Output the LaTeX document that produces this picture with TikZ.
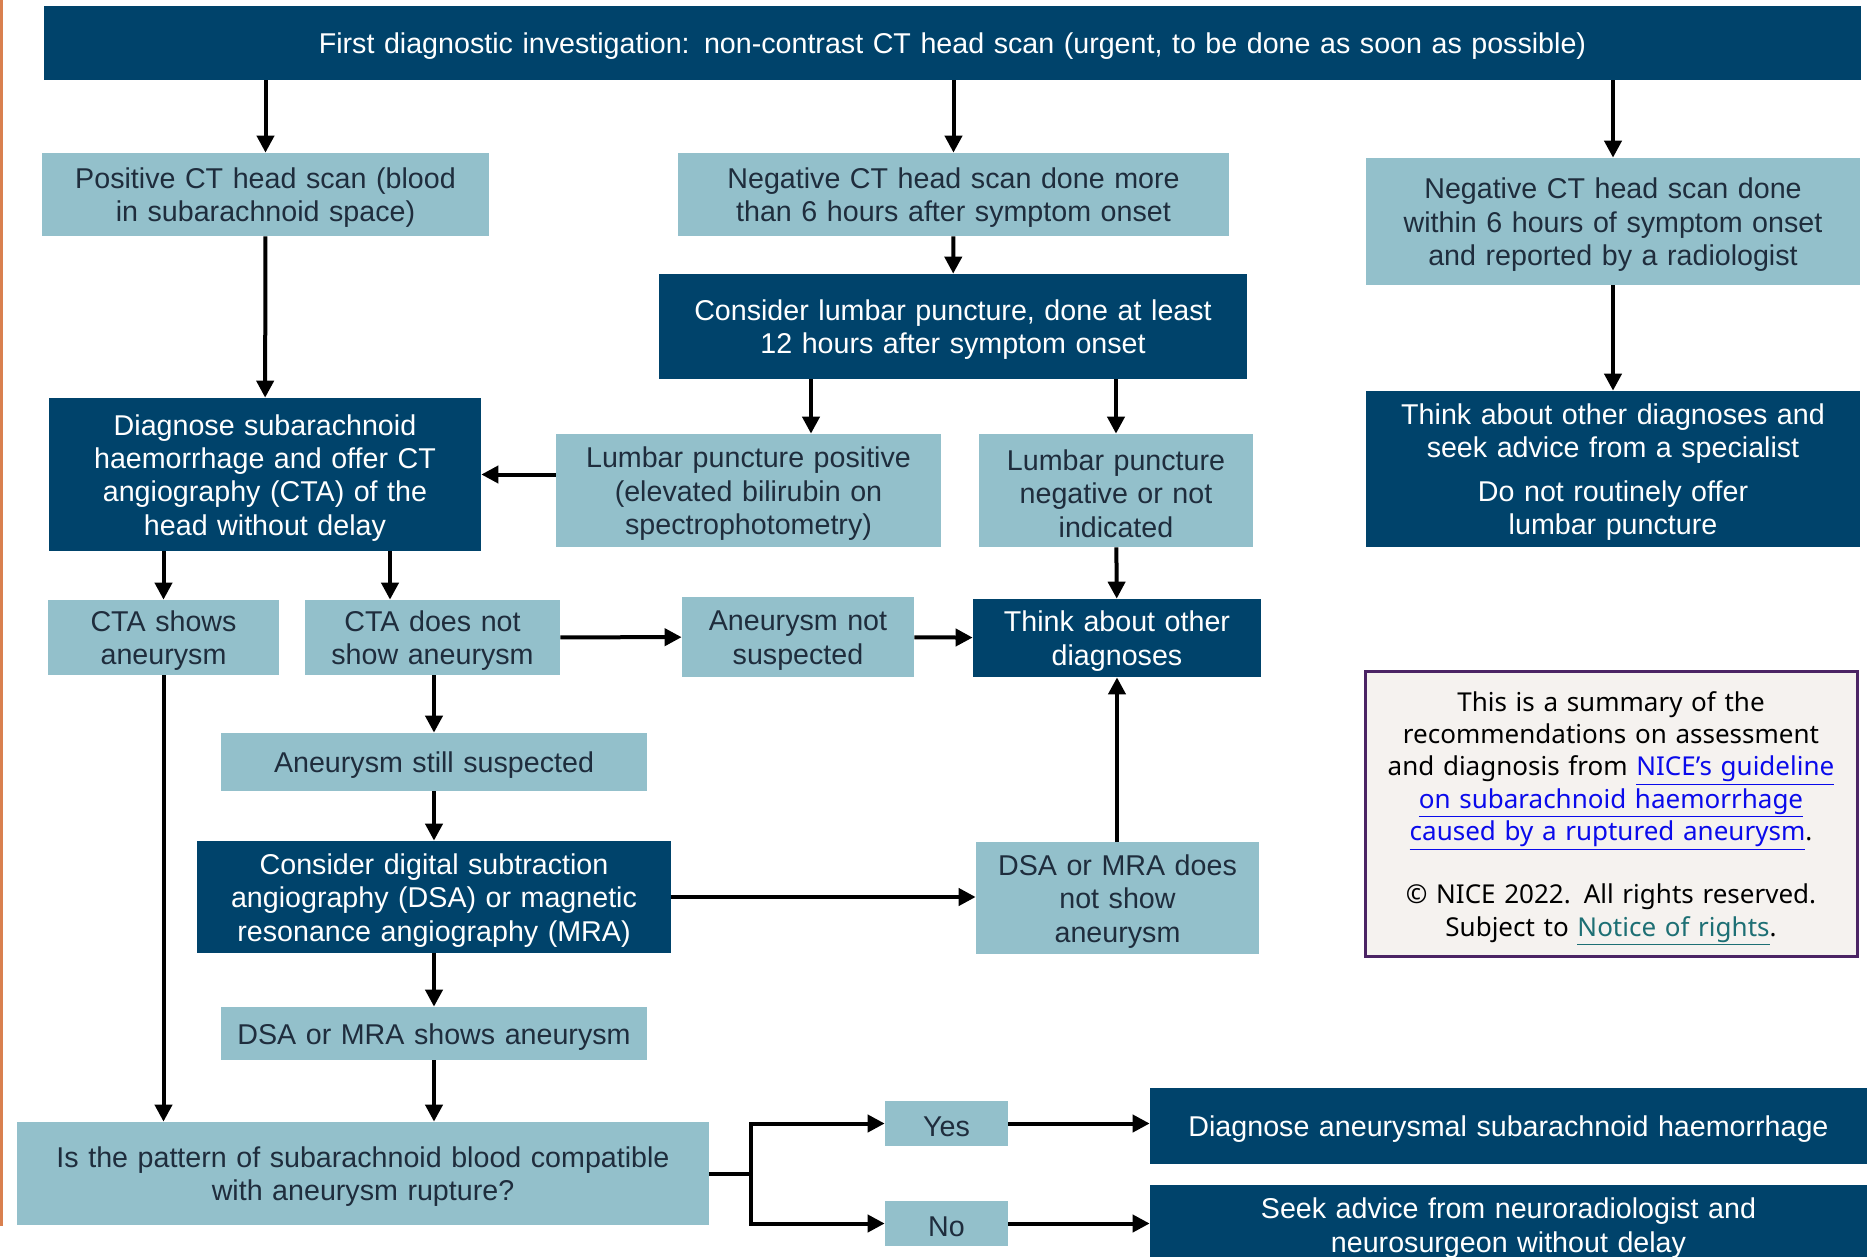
\documentclass[tikz,border=0pt]{standalone}
\usepackage{fontspec}
\setmainfont{Liberation Sans}
\newfontfamily\notefont{Noto Sans}
\usetikzlibrary{arrows.meta, positioning, calc}
\definecolor{nicenavy}{RGB}{0, 67, 107}
\definecolor{nicelight}{RGB}{147, 192, 203}
\definecolor{niceink}{RGB}{31, 45, 61}
\definecolor{notefill}{RGB}{245, 242, 239}
\definecolor{noteedge}{RGB}{75, 36, 100}
\definecolor{linkblue}{RGB}{10, 10, 235}
\definecolor{linkteal}{RGB}{29, 111, 116}
\definecolor{edgeorange}{RGB}{217, 128, 79}
\newcommand{\nicelink}[2][linkblue]{\textcolor{#1}{\underline{#2}}}
\tikzset{
    darkbox/.style={rectangle, fill=nicenavy, text=white, inner sep=0pt,
                    align=center, font=\fontsize{16.3}{19}\selectfont,
                    execute at begin node={\rule{0pt}{15.5pt}}},
    lightbox/.style={rectangle, fill=nicelight, text=niceink, inner sep=0pt,
                     align=center, font=\fontsize{16.3}{19}\selectfont,
                     execute at begin node={\rule{0pt}{15.5pt}}},
    notebox/.style={rectangle, draw=noteedge, line width=0.6mm, fill=notefill, inner sep=0pt,
                    align=center, font=\notefont\fontsize{14.8}{18.4}\selectfont,
                    execute at begin node={\rule{0pt}{17pt}}},
    arrow/.style={-{Triangle[length=3.4mm, width=3.4mm]}, line width=0.8mm},
    plainline/.style={line width=0.8mm},
}
\begin{document}
\begin{tikzpicture}[x=0.2mm, y=-0.2mm]
    \clip (0,0) rectangle (1875,1257);
    \fill[white] (0,0) rectangle (1875,1257);
    \fill[edgeorange] (0,0) rectangle (3,1226);

    % top row
    \node[darkbox, text width=363.4mm, minimum height=14.8mm] (first) at (952.5, 43) {First diagnostic investigation: non-contrast CT head scan (urgent, to be done as soon as possible)};
    \node[lightbox, text width=89.4mm, minimum height=16.6mm] (positive) at (265.5, 194.5) {Positive CT head scan (blood\\in subarachnoid space)};
    \node[lightbox, text width=110.2mm, minimum height=16.6mm] (negmore) at (953.5, 194.5) {Negative CT head scan done more\\than 6 hours after symptom onset};
    \node[lightbox, text width=98.8mm, minimum height=25.4mm] (negwithin) at (1613, 221.5) {Negative CT head scan done\\within 6 hours of symptom onset\\and reported by a radiologist};
    \node[darkbox, text width=117.6mm, minimum height=21mm] (lumbar) at (953, 326.5) {Consider lumbar puncture, done at least\\12 hours after symptom onset};

    % middle
    \node[darkbox, text width=86.4mm, minimum height=30.6mm] (diagsah) at (265, 474.5) {Diagnose subarachnoid\\haemorrhage and offer CT\\angiography (CTA) of the\\head without delay};
    \node[lightbox, text width=77mm, minimum height=22.6mm] (lppos) at (748.5, 490.5) {Lumbar puncture positive\\(elevated bilirubin on\\spectrophotometry)};
    \node[lightbox, text width=54.8mm, minimum height=22.6mm] (lpneg) at (1116, 490.5) {Lumbar puncture\\negative or not\\indicated};
    \node[darkbox, text width=98.8mm, minimum height=31.2mm] (specialist) at (1613, 469) {Think about other diagnoses and\\seek advice from a specialist\\[2mm]Do not routinely offer\\lumbar puncture};

    \node[lightbox, text width=46.2mm, minimum height=15mm] (ctayes) at (163.5, 637.5) {CTA shows\\aneurysm};
    \node[lightbox, text width=51mm, minimum height=15mm] (ctano) at (432.5, 637.5) {CTA does not\\show aneurysm};
    \node[lightbox, text width=46.4mm, minimum height=16mm] (notsusp) at (798, 637) {Aneurysm not\\suspected};
    \node[darkbox, text width=57.6mm, minimum height=15.6mm] (otherdiag) at (1117, 638) {Think about other\\diagnoses};

    \node[lightbox, text width=85.2mm, minimum height=11.6mm] (stillsusp) at (434, 762) {Aneurysm still suspected};
    \node[darkbox, text width=94.8mm, minimum height=22.4mm] (dsa) at (434, 897) {Consider digital subtraction\\angiography (DSA) or magnetic\\resonance angiography (MRA)};
    \node[lightbox, text width=56.6mm, minimum height=22.4mm] (dsano) at (1117.5, 898) {DSA or MRA does\\not show\\aneurysm};
    \node[lightbox, text width=85.2mm, minimum height=10.6mm] (dsayes) at (434, 1033.5) {DSA or MRA shows aneurysm};

    \node[notebox, text width=98.4mm, minimum height=57mm] (note) at (1611, 813.5) {This is a summary of the\\recommendations on assessment\\and diagnosis from \nicelink{NICE’s guideline}\\\nicelink{on subarachnoid haemorrhage}\\\nicelink{caused by a ruptured aneurysm}.\\[6.2mm]© NICE 2022. All rights reserved.\\Subject to \nicelink[linkteal]{Notice of rights}.};

    % bottom
    \node[lightbox, text width=138.4mm, minimum height=20.6mm] (pattern) at (363, 1173.5) {Is the pattern of subarachnoid blood compatible\\with aneurysm rupture?};
    \node[lightbox, text width=24.6mm, minimum height=9mm] (yes) at (946.5, 1123.5) {Yes};
    \node[lightbox, text width=24.6mm, minimum height=9mm] (no) at (946.5, 1223.5) {No};
    \node[darkbox, text width=143.4mm, minimum height=15.2mm] (aneurysmal) at (1508.5, 1126) {Diagnose aneurysmal subarachnoid haemorrhage};
    \node[darkbox, text width=143.4mm, minimum height=16mm] (seekadvice) at (1508.5, 1225) {Seek advice from neuroradiologist and\\neurosurgeon without delay};
    \coordinate (split) at (751, 1173.5);

    \draw[arrow] (first.south -| positive.north) -- (positive.north);
    \draw[arrow] (first.south -| negmore.north) -- (negmore.north);
    \draw[arrow] (first.south -| negwithin.north) -- (negwithin.north);
    \draw[arrow] (positive) -- (diagsah);
    \draw[arrow] (negmore) -- (lumbar);
    \draw[arrow] (negwithin) -- (specialist);
    \draw[arrow] ([xshift=12.5mm]lppos.north |- lumbar.south) -- ([xshift=12.5mm]lppos.north);
    \draw[arrow] (lumbar.south -| lpneg.north) -- (lpneg.north);
    \draw[arrow] (lppos.west |- diagsah.east) -- (diagsah.east);
    \draw[arrow] (lpneg) -- (otherdiag);
    \draw[arrow] (diagsah.south -| ctayes.north) -- (ctayes.north);
    \draw[arrow] ([xshift=25mm]diagsah.south) -- ([xshift=25mm]diagsah.south |- ctano.north);
    \draw[arrow] (ctano) -- (notsusp);
    \draw[arrow] (notsusp) -- (otherdiag);
    \draw[arrow] (ctano.south -| stillsusp.north) -- (stillsusp.north);
    \draw[arrow] (stillsusp) -- (dsa);
    \draw[arrow] (dsa.east) -- (dsano.west |- dsa.east);
    \draw[arrow] (dsano.north -| otherdiag.south) -- (otherdiag.south);
    \draw[arrow] (dsa) -- (dsayes);
    \draw[arrow] (dsayes.south) -- (dsayes.south |- pattern.north);
    \draw[arrow] (ctayes.south) -- (ctayes.south |- pattern.north);
    \draw[plainline] (pattern.east) -- (split);
    \draw[arrow] (split) |- (yes.west);
    \draw[arrow] (split) |- (no.west);
    \draw[arrow] (yes) -- (yes -| aneurysmal.west);
    \draw[arrow] (no) -- (no -| seekadvice.west);
\end{tikzpicture}
\end{document}
